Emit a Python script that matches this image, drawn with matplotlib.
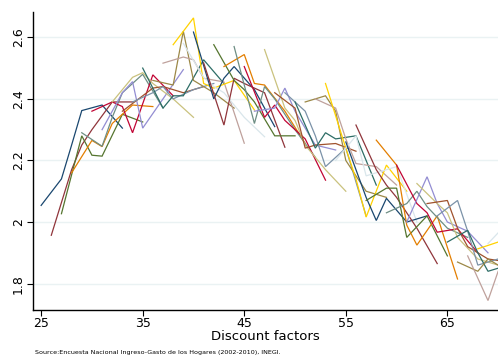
import numpy as np
import matplotlib
matplotlib.use("Agg")
import matplotlib.pyplot as plt

# Age of each cohort in the first survey (2002)
cohort_age = list(range(25, 70))
# Years after 2002 of each survey: 2002, 2004, 2005, 2006, 2008, 2010
survey_offset = [0, 2, 3, 4, 6, 8]

nan = float("nan")
s2002 = [2.054, 1.957, 2.027, 2.16, 2.29, 2.36, 2.30, 2.39, 2.36, 2.39,
         2.50, 2.46, 2.516, 2.576, 2.58, 2.617, 2.517, 2.576, 2.505, 2.57,
         2.505, 2.36, 2.56, 2.42, 2.42, 2.39, 2.39, 2.40, 2.45, 2.20,
         2.26, 2.315, 2.07, 2.266, 2.03, 2.185, 2.00, 2.125, 2.06, 2.02,
         1.935, 1.87, 1.89, 1.913, 1.93]
s2004 = [2.14, 2.17, 2.28, 2.265, 2.246, 2.39, 2.42, 2.47, 2.41, 2.42,
         2.37, 2.445, 2.536, 2.663, 2.47, 2.40, 2.315, 2.46, 2.544, 2.32,
         2.34, 2.37, 2.37, 2.37, 2.36, 2.24, 2.41, 2.37, 2.24, 2.28,
         2.08, 2.17, 2.11, 2.185, 2.06, 2.06, 2.147, 2.06, 2.07, 2.07,
         1.973, 1.84, 1.745, 1.935, 2.00]
s2005 = [2.25, 2.25, 2.217, 2.245, 2.34, 2.375, 2.456, 2.485, 2.435, 2.44,
         2.41, 2.62, 2.527, 2.45, 2.44, 2.467, 2.467, 2.43, 2.45, 2.44,
         2.38, 2.435, 2.33, 2.24, 2.28, 2.29, 2.36, 2.27, 2.14, 2.15,
         2.005, 2.12, 2.11, 1.99, 2.10, 2.03, 2.06, 2.03, 1.98, 1.97,
         1.90, 1.88, 1.84, nan, nan]
s2006 = [2.362, 2.30, 2.214, 2.32, 2.42, 2.29, 2.305, 2.45, 2.44, 2.40,
         2.41, 2.46, 2.467, 2.435, 2.42, 2.505, 2.45, 2.39, 2.445, 2.40,
         2.33, 2.36, 2.25, 2.25, 2.18, 2.27, 2.20, 2.19, 2.016, 2.16,
         2.077, 2.08, 1.95, 1.925, 2.05, 1.967, 2.00, 1.95, 1.92, 1.86,
         1.84, 1.86, 1.88, nan, nan]
s2008 = [2.38, 2.39, 2.35, 2.38, 2.48, 2.478, 2.40, 2.40, 2.42, 2.43,
         2.527, 2.42, 2.455, 2.46, 2.34, 2.43, 2.42, 2.28, 2.36, 2.30,
         2.27, 2.25, 2.17, 2.255, 2.24, 2.28, 2.10, 2.18, 2.185, 2.18,
         2.00, 1.98, 2.02, 2.02, 1.98, 1.978, 1.97, 1.88, 1.88, 1.88,
         1.86, nan, nan, nan, nan]
s2010 = [2.305, 2.39, 2.325, 2.375, 2.37, 2.41, 2.495, 2.34, 2.44, 2.45,
         2.45, 2.37, 2.256, 2.364, 2.277, 2.31, 2.243, 2.28, 2.255, 2.21,
         2.136, 2.234, 2.10, 2.23, 2.02, 2.12, 2.08, 2.12, 2.10, 2.00,
         2.02, 1.865, 1.89, 1.815, 1.95, 1.90, 1.90, 1.86, 1.87, nan,
         nan, nan, nan, nan, nan]

y_ticks = [1.8, 2.0, 2.2, 2.4, 2.6]
y_tick_labels = ["1.8", "2", "2.2", "2.4", "2.6"]
x_ticks = [25, 35, 45, 55, 65]

palette = ["#1a476f", "#90353b", "#55752f", "#e37e00", "#6e8e84",
           "#c10534", "#938dd2", "#cac27e", "#a0522d", "#7b92a8",
           "#2d6d66", "#9c8847", "#bfa19c", "#ffd200", "#d9e6eb"]

fig = plt.figure(figsize=(4.98, 3.56), dpi=100)
ax = fig.add_axes([0.0663, 0.129, 0.934, 0.838])

surveys = [s2002, s2004, s2005, s2006, s2008, s2010]
for i, a in enumerate(cohort_age):
    xs = np.array([a + o for o in survey_offset], dtype=float)
    ys = np.array([s[i] for s in surveys], dtype=float)
    ok = ~np.isnan(ys)
    ax.plot(xs[ok], ys[ok], color=palette[i % len(palette)], lw=0.9,
            solid_joinstyle="miter")

ax.set_xlim(24.2, 70.0)
ax.set_ylim(1.714, 2.683)
ax.set_yticks(y_ticks)
ax.set_yticklabels(y_tick_labels, rotation=90, va="center")
ax.set_xticks(x_ticks)
ax.grid(axis="y", color="#eaf2f3", lw=1.0)
ax.set_axisbelow(True)
for s in ["top", "right"]:
    ax.spines[s].set_visible(False)
for s in ["left", "bottom"]:
    ax.spines[s].set_linewidth(1.0)
ax.tick_params(axis="x", labelsize=9, length=4, width=0.8, pad=1)
ax.tick_params(axis="y", labelsize=9, length=4, width=0.8, pad=2)
ax.set_xlabel("Discount factors", fontsize=9.5, labelpad=0)

fig.text(0.07, 0.011, "Source:Encuesta Nacional Ingreso-Gasto de los Hogares (2002-2010), INEGI.",
         fontsize=4.6, ha="left", va="center")

fig.savefig("out.png", dpi=100)
